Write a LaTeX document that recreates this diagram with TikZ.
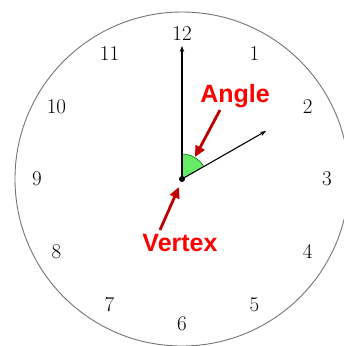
\documentclass[tikz,border=0pt]{standalone}
\usepackage{fontspec}
\newfontfamily\labelfont{Liberation Sans}
\usetikzlibrary{arrows.meta,calc}
\definecolor{arrowred}{RGB}{192,0,0}
\definecolor{labelred}{RGB}{255,0,0}
\definecolor{wedgegreen}{RGB}{102,235,102}
\tikzset{
  num/.style={font=\fontsize{21}{21}\selectfont, text=black, inner sep=0pt},
  handline/.style={line width=1.1pt, -{Stealth[length=6pt,width=4.5pt]}},
  callout/.style={font=\labelfont\bfseries\fontsize{25}{25}\selectfont, text=labelred, inner sep=1pt},
  pointer/.style={draw=arrowred, line width=2.8pt, -{Triangle[length=11pt,width=10pt]}},
}
\begin{document}
\begin{tikzpicture}[x=1pt,y=-1pt]
\useasboundingbox (0,0) rectangle (344,346);
\coordinate (c) at (182,179);
\draw[black!55, line width=0.9pt] (c) circle[radius=167];
% numbers
\foreach \n/\a in {12/90,1/60,2/30,3/0,4/-30,5/-60,6/-90,7/-120,8/-150,9/180,10/150,11/120}{
  \node[num] (n\n) at ($(c)+({145*cos(\a)},{-145*sin(\a)})$) {\n};
}
% wedge
\fill[wedgegreen] (c) -- ++(0,-25) arc[start angle=90, end angle=30, x radius=25, y radius=-25] -- cycle;
\draw[green!45!black, line width=0.6pt] (c) ++(0,-25) arc[start angle=90, end angle=30, x radius=25, y radius=-25];
% hands
\coordinate (h12) at (182,46);
\coordinate (h2) at (266,131);
\draw[handline] (c) -- (h12);
\draw[handline] (c) -- (h2);
\fill (c) circle[radius=3];
% callouts
\node[callout] (angle) at (235,96) {Angle};
\node[callout] (vertex) at (180,243) {Vertex};
\coordinate (anglefrom) at (220,110);
\coordinate (angletip) at (195,157);
\coordinate (vertexfrom) at (160,230);
\coordinate (vertextip) at (179,187);
\draw[pointer] (anglefrom) -- (angletip);
\draw[pointer] (vertexfrom) -- (vertextip);
\end{tikzpicture}
\end{document}
